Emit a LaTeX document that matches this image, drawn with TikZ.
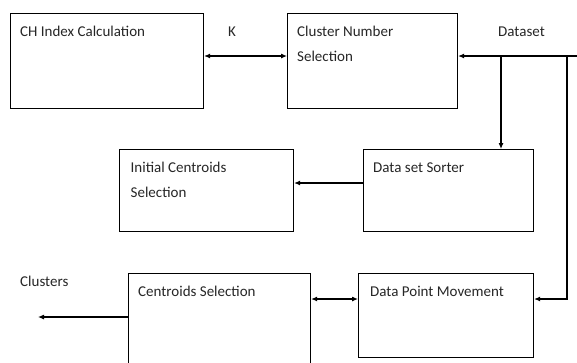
\documentclass[tikz,border=0pt]{standalone}
\usepackage{fontspec}
\setmainfont{Carlito}
\usetikzlibrary{arrows.meta,calc}
\begin{document}
\begin{tikzpicture}[x=1pt,y=-1pt,
  blk/.style={draw=black,line width=1.1pt,anchor=north west,inner sep=0pt},
  txt/.style={anchor=base west,inner sep=0pt,align=left,text=black!85,font=\fontsize{15}{25}\selectfont},
  arr/.style={line width=1.1pt,-{Latex[length=6pt,width=5pt]}},
  dbl/.style={line width=1.1pt,{Latex[length=6pt,width=5pt]}-{Latex[length=6pt,width=5pt]}}]
\useasboundingbox (0,0) rectangle (577,362);
\clip (0,0) rectangle (577,362);
% boxes
\node[blk,minimum width=193,minimum height=95] (ch) at (10,13) {};
\node[blk,minimum width=170,minimum height=95] (cns) at (287,13) {};
\node[blk,minimum width=174,minimum height=82] (ics) at (119,149) {};
\node[blk,minimum width=170,minimum height=82] (ds) at (363,149) {};
\node[blk,minimum width=182,minimum height=95] (cs) at (128,273) {};
\node[blk,minimum width=175,minimum height=84] (dpm) at (358,273) {};
% texts
\node[txt] (tch) at (20,36.7) {CH Index Calculation};
\node[txt] (tcns) at (297,61.7) {Cluster Number\\Selection};
\node[txt] (tk) at (228,36.7) {K};
\node[txt] (tdata) at (498,36.7) {Dataset};
\node[txt] (tics) at (130.5,197.3) {Initial Centroids\\Selection};
\node[txt] (tds) at (373,172.7) {Data set Sorter};
\node[txt] (tcl) at (20,286.7) {Clusters};
\node[txt] (tcs) at (138,296.7) {Centroids Selection};
\node[txt] (tdpm) at (370,296.7) {Data Point Movement};
% connectors
\coordinate (din) at (577,56);
\coordinate (b1) at (501,56);
\coordinate (b2) at (567,56);
\coordinate (b3) at (567,299);
\coordinate (m1) at (0,183);
\coordinate (cl) at (38,317);
\draw[dbl] (ch.east |- din) -- (cns.west |- din);
\draw[arr] (din) -- (cns.east |- din);
\draw[arr] (b1) -- (b1 |- ds.north);
\draw[arr] (b2) -- (b3) -- (b3 -| dpm.east);
\draw[arr] (ds.west |- m1) -- (ics.east |- m1);
\draw[dbl] (cs.east |- b3) -- (dpm.west |- b3);
\draw[arr] (cs.west |- cl) -- (cl);
\end{tikzpicture}
\end{document}
